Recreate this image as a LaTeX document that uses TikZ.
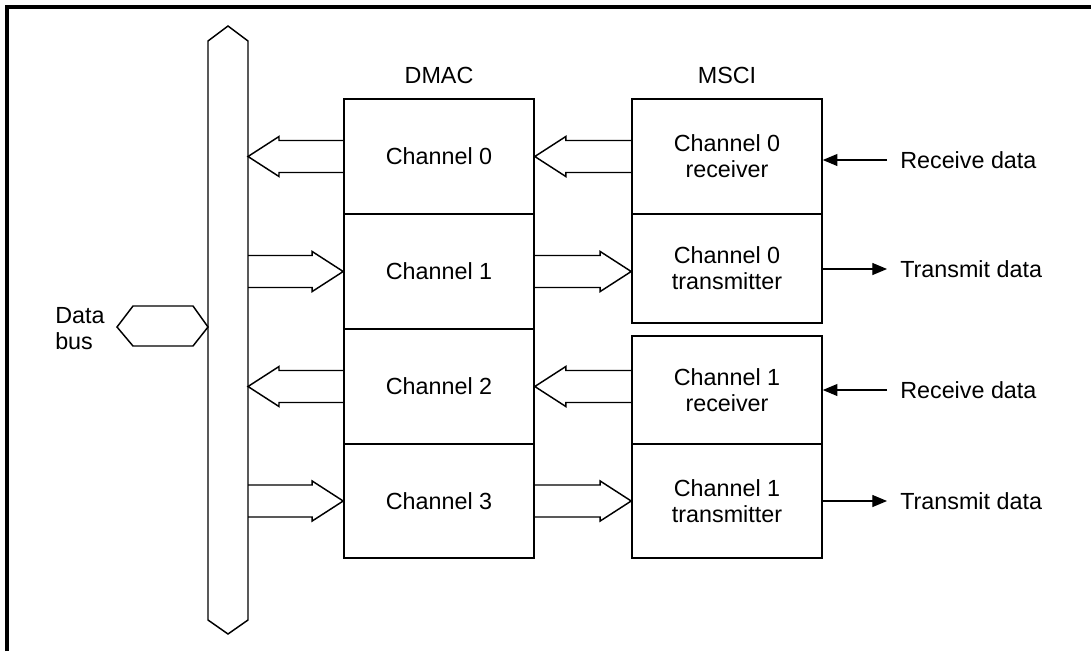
\documentclass[tikz,border=0pt]{standalone}
\usepackage{fontspec}
\setmainfont{Liberation Sans}
\usetikzlibrary{calc,arrows.meta}
\newcommand\fatarrow[2]{%
 \path[fat] let \p1=(#1),\p2=(#2),\n1={ifthenelse(\x2>\x1,1,-1)} in
 (\x1,{\y1+12pt}) -- ({\x2-\n1*23.25pt},{\y1+12pt}) -- ({\x2-\n1*23.25pt},{\y1+15pt}) -- (\x2,\y1)
 -- ({\x2-\n1*23.25pt},{\y1-15pt}) -- ({\x2-\n1*23.25pt},{\y1-12pt}) -- (\x1,{\y1-12pt});}
\begin{document}
\begin{tikzpicture}[x=0.75pt,y=-0.75pt,
 box/.style={draw,line width=1.2pt,minimum width=142.5pt,inner sep=0pt,align=center,font=\fontsize{17.5}{19.5}\selectfont},
 lbl/.style={font=\fontsize{17.5}{19.5}\selectfont,inner sep=0pt},
 fat/.style={draw,line width=1.1pt,line join=miter},
 sig/.style={line width=0.9pt},
 tip/.style={-{Triangle[length=11pt,width=9pt]}},
 busline/.style={line width=1.1pt,line join=miter}]
\useasboundingbox (0,0) rectangle (1091,651);
% frame
\draw[line width=3pt] (7,651) -- (7,7) -- (1091,7);
% bus
\draw[busline] (208,41) -- (228,26) -- (248,41) -- (248,620) -- (228,634) -- (208,620) -- cycle;
\coordinate (busR) at (248,0);
\draw[busline] (117,327) -- (133,306) -- (193,306) -- (208,327) -- (193,346) -- (133,346) -- cycle;
\node[lbl,align=left,anchor=west] (db) at (55,329) {Data\\bus};
% headings
\node[lbl] (dmac) at (439,75) {DMAC};
\node[lbl] (msci) at (727,75) {MSCI};
% DMAC boxes
\node[box,minimum height=86.25pt] (d0) at (439,156.5) {Channel 0};
\node[box,minimum height=86.25pt] (d1) at (439,271.5) {Channel 1};
\node[box,minimum height=86.25pt] (d2) at (439,386.5) {Channel 2};
\node[box,minimum height=85.5pt] (d3) at (439,501) {Channel 3};
% MSCI boxes
\node[box,minimum height=86.25pt] (m0) at (727,156.5) {Channel 0\\receiver};
\node[box,minimum height=81.75pt] (m1) at (727,268.5) {Channel 0\\transmitter};
\node[box,minimum height=81pt] (m2) at (727,390) {Channel 1\\receiver};
\node[box,minimum height=85.5pt] (m3) at (727,501) {Channel 1\\transmitter};
% fat arrows bus <-> DMAC
\fatarrow{d0.west}{busR |- d0.west}
\fatarrow{busR |- d1.west}{d1.west}
\fatarrow{d2.west}{busR |- d2.west}
\fatarrow{busR |- d3.west}{d3.west}
% fat arrows DMAC <-> MSCI
\fatarrow{m0.west}{d0.east}
\fatarrow{d1.east}{m1.west |- d1.east}
\fatarrow{m2.west |- d2.east}{d2.east}
\fatarrow{d3.east}{m3.west}
% serial data
\node[lbl,anchor=west] (r0) at (900,160) {Receive data};
\node[lbl,anchor=west] (t0) at (900,269) {Transmit data};
\node[lbl,anchor=west] (r1) at (900,390) {Receive data};
\node[lbl,anchor=west] (t1) at (900,501) {Transmit data};
\coordinate (r0s) at (887,160);
\coordinate (t0e) at (887,269);
\coordinate (r1s) at (887,390);
\coordinate (t1e) at (887,501);
\draw[sig,tip] (r0s) -- (m0.east |- r0s);
\draw[sig,tip] (m1.east |- t0e) -- (t0e);
\draw[sig,tip] (r1s) -- (m2.east |- r1s);
\draw[sig,tip] (m3.east |- t1e) -- (t1e);
\end{tikzpicture}
\end{document}
